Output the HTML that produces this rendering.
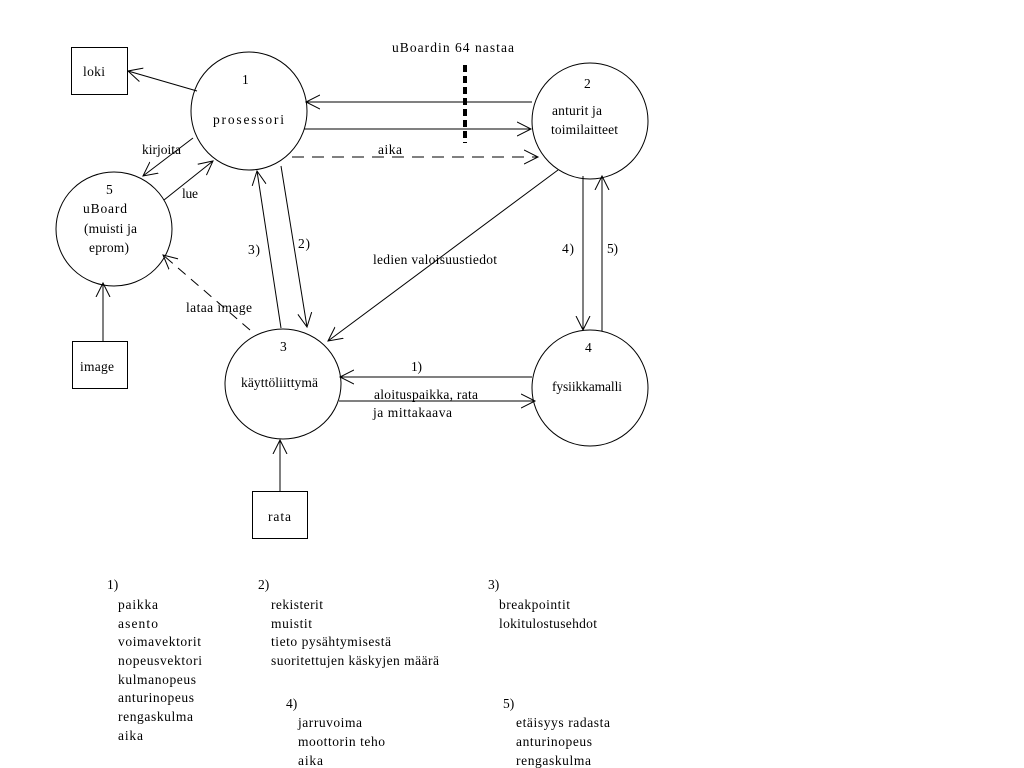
<!DOCTYPE html>
<html><head><meta charset="utf-8"><style>
html,body{margin:0;padding:0;background:#fff;width:1024px;height:768px;overflow:hidden}
svg text{font-family:"Liberation Serif",serif;font-size:13.5px;fill:#000}
</style></head><body>
<svg width="1024" height="768" viewBox="0 0 1024 768" xmlns="http://www.w3.org/2000/svg">
<defs>
<marker id="a" markerUnits="userSpaceOnUse" markerWidth="16" markerHeight="16" refX="14" refY="8" orient="auto">
<path d="M0,1 L14,8 L0,15" fill="none" stroke="#000" stroke-width="1"/>
</marker>
</defs>
<g fill="none" stroke="#000" stroke-width="1">
<ellipse cx="249" cy="111" rx="58" ry="59"/>
<ellipse cx="590" cy="121" rx="58" ry="58"/>
<ellipse cx="283" cy="384" rx="58" ry="55"/>
<ellipse cx="590" cy="388" rx="58" ry="58"/>
<ellipse cx="114" cy="229" rx="58" ry="57"/>
<rect x="71.5" y="47.5" width="56" height="47"/>
<rect x="72.5" y="341.5" width="55" height="47"/>
<rect x="252.5" y="491.5" width="55" height="47"/>
<line x1="197" y1="91" x2="128" y2="71" marker-end="url(#a)"/>
<line x1="193" y1="138" x2="143" y2="176" marker-end="url(#a)"/>
<line x1="164" y1="200" x2="213" y2="161" marker-end="url(#a)"/>
<line x1="532" y1="102" x2="306" y2="102" marker-end="url(#a)"/>
<line x1="304" y1="129" x2="531" y2="129" marker-end="url(#a)"/>
<line x1="292" y1="157" x2="538" y2="157" stroke-dasharray="12,8" marker-end="url(#a)"/>
<line x1="465" y1="65" x2="465" y2="143" stroke-width="4" stroke-dasharray="7,4"/>
<line x1="281" y1="328" x2="257" y2="171" marker-end="url(#a)"/>
<line x1="281" y1="166" x2="307" y2="327" marker-end="url(#a)"/>
<line x1="558" y1="170" x2="328" y2="341" marker-end="url(#a)"/>
<line x1="583" y1="176" x2="583" y2="330" marker-end="url(#a)"/>
<line x1="602" y1="331" x2="602" y2="176" marker-end="url(#a)"/>
<line x1="532" y1="377" x2="340" y2="377" marker-end="url(#a)"/>
<line x1="339" y1="401" x2="535" y2="401" marker-end="url(#a)"/>
<line x1="250" y1="330" x2="163" y2="255" stroke-dasharray="10,7" marker-end="url(#a)"/>
<line x1="103" y1="341" x2="103" y2="283" marker-end="url(#a)"/>
<line x1="280" y1="491" x2="280" y2="440" marker-end="url(#a)"/>
</g>
<g lengthAdjust="spacingAndGlyphs">
<text x="83" y="76" textLength="22">loki</text>
<text x="80" y="371" textLength="34">image</text>
<text x="268" y="521" textLength="23">rata</text>
<text x="242" y="84">1</text>
<text x="213" y="124" textLength="71">prosessori</text>
<text x="584" y="88">2</text>
<text x="552" y="115" textLength="50">anturit ja</text>
<text x="551" y="134" textLength="67">toimilaitteet</text>
<text x="280" y="351">3</text>
<text x="241" y="387" textLength="77">käyttöliittymä</text>
<text x="585" y="352">4</text>
<text x="552" y="391" textLength="70">fysiikkamalli</text>
<text x="106" y="194">5</text>
<text x="83" y="213" textLength="44">uBoard</text>
<text x="84" y="233" textLength="53">(muisti ja</text>
<text x="89" y="252" textLength="40">eprom)</text>
<text x="142" y="154" textLength="39">kirjoita</text>
<text x="182" y="198" textLength="16">lue</text>
<text x="392" y="52" textLength="122">uBoardin 64 nastaa</text>
<text x="378" y="154" textLength="24">aika</text>
<text x="373" y="264" textLength="124">ledien valoisuustiedot</text>
<text x="248" y="254" textLength="12">3)</text>
<text x="298" y="248" textLength="12">2)</text>
<text x="562" y="253" textLength="12">4)</text>
<text x="607" y="253" textLength="11">5)</text>
<text x="411" y="371" textLength="11">1)</text>
<text x="374" y="399" textLength="104">aloituspaikka, rata</text>
<text x="373" y="417" textLength="79">ja mittakaava</text>
<text x="186" y="312" textLength="66">lataa image</text>

<text x="107" y="589">1)</text>
<text x="118" y="609" textLength="40">paikka</text>
<text x="118" y="628" textLength="40">asento</text>
<text x="118" y="646" textLength="83">voimavektorit</text>
<text x="118" y="665" textLength="84">nopeusvektori</text>
<text x="118" y="684" textLength="78">kulmanopeus</text>
<text x="118" y="702" textLength="76">anturinopeus</text>
<text x="118" y="721" textLength="75">rengaskulma</text>
<text x="118" y="740" textLength="25">aika</text>
<text x="258" y="589">2)</text>
<text x="271" y="609" textLength="52">rekisterit</text>
<text x="271" y="628" textLength="41">muistit</text>
<text x="271" y="646" textLength="120">tieto pysähtymisestä</text>
<text x="271" y="665" textLength="168">suoritettujen käskyjen määrä</text>
<text x="488" y="589">3)</text>
<text x="499" y="609" textLength="71">breakpointit</text>
<text x="499" y="628" textLength="98">lokitulostusehdot</text>
<text x="286" y="708">4)</text>
<text x="298" y="727" textLength="64">jarruvoima</text>
<text x="298" y="746" textLength="87">moottorin teho</text>
<text x="298" y="765" textLength="25">aika</text>
<text x="503" y="708">5)</text>
<text x="516" y="727" textLength="94">etäisyys radasta</text>
<text x="516" y="746" textLength="76">anturinopeus</text>
<text x="516" y="765" textLength="75">rengaskulma</text>
</g>
</svg>
</body></html>
